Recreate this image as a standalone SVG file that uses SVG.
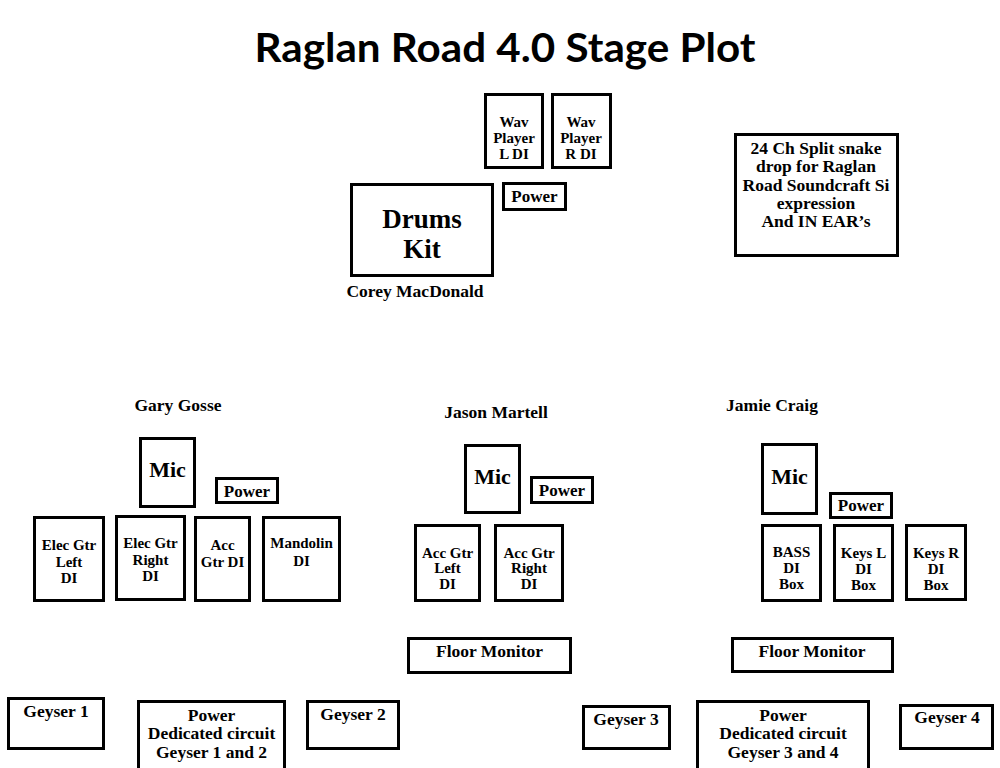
<svg xmlns="http://www.w3.org/2000/svg" width="1000" height="768" viewBox="0 0 1000 768">
<style>
.b{fill:#fff;stroke:#000;stroke-width:3}
text{font-family:"Liberation Serif","Times New Roman",serif;font-weight:bold;fill:#000;text-anchor:middle}
.t15{font-size:15px}
.t17{font-size:17px}
.t18{font-size:17.5px}
.mic{font-size:22px}
.title{font-family:Lato,"Liberation Sans",Arial,sans-serif;font-size:41px}
</style>
<rect width="1000" height="768" fill="#fff"/>
<text class="title" x="505" y="62" textLength="501" lengthAdjust="spacingAndGlyphs">Raglan Road 4.0 Stage Plot</text>
<g id="connectors"/>

<g id="wav-l"><rect class="b" x="485.5" y="94.5" width="57" height="73"/>
<text class="t15" x="514" y="127">Wav</text><text class="t15" x="514" y="143">Player</text><text class="t15" x="514" y="159">L DI</text></g>
<g id="wav-r"><rect class="b" x="552.5" y="94.5" width="58" height="73"/>
<text class="t15" x="581" y="127">Wav</text><text class="t15" x="581" y="143">Player</text><text class="t15" x="581" y="159">R DI</text></g>
<g id="power-drums"><rect class="b" x="503.5" y="183.5" width="62" height="26"/>
<text class="t17" x="534.5" y="202">Power</text></g>
<g id="drums"><rect class="b" x="351.5" y="184.5" width="141" height="91"/>
<text x="422" y="228" font-size="27">Drums</text><text x="422" y="258" font-size="27">Kit</text></g>
<text id="corey" class="t18" x="415" y="297">Corey MacDonald</text>

<g id="snake"><rect class="b" x="735.5" y="134.5" width="162" height="121"/>
<text class="t18" x="816" y="154">24 Ch Split snake</text>
<text class="t18" x="816" y="172">drop for Raglan</text>
<text class="t18" x="816" y="191">Road Soundcraft Si</text>
<text class="t18" x="816" y="209">expression</text>
<text class="t18" x="816" y="227">And IN EAR’s</text></g>

<text id="gary" class="t18" x="178" y="411">Gary Gosse</text>
<g id="gary-mic"><rect class="b" x="140.5" y="438.5" width="54" height="68"/><text class="mic" x="167.5" y="477">Mic</text></g>
<g id="gary-power"><rect class="b" x="216.5" y="478.5" width="61" height="24"/><text class="t17" x="247" y="497">Power</text></g>
<g id="elec-l"><rect class="b" x="34.5" y="517.5" width="69" height="83"/>
<text class="t15" x="69" y="550">Elec Gtr</text><text class="t15" x="69" y="567">Left</text><text class="t15" x="69" y="583">DI</text></g>
<g id="elec-r"><rect class="b" x="116.5" y="516.5" width="68" height="83"/>
<text class="t15" x="150.5" y="548">Elec Gtr</text><text class="t15" x="150.5" y="565">Right</text><text class="t15" x="150.5" y="581">DI</text></g>
<g id="acc-gary"><rect class="b" x="195.5" y="517.5" width="54" height="83"/>
<text class="t15" x="222.5" y="550">Acc</text><text class="t15" x="222.5" y="567">Gtr DI</text></g>
<g id="mandolin"><rect class="b" x="263.5" y="517.5" width="76" height="83"/>
<text class="t15" x="301.5" y="548">Mandolin</text><text class="t15" x="301.5" y="566">DI</text></g>

<text id="jason" class="t18" x="496" y="418">Jason Martell</text>
<g id="jason-mic"><rect class="b" x="465.5" y="445.5" width="54" height="67"/><text class="mic" x="492.5" y="484">Mic</text></g>
<g id="jason-power"><rect class="b" x="531.5" y="477.5" width="61" height="25"/><text class="t17" x="562" y="496">Power</text></g>
<g id="acc-l"><rect class="b" x="415.5" y="525.5" width="64" height="75"/>
<text class="t15" x="447.5" y="558">Acc Gtr</text><text class="t15" x="447.5" y="573">Left</text><text class="t15" x="447.5" y="589">DI</text></g>
<g id="acc-r"><rect class="b" x="495.5" y="525.5" width="67" height="75"/>
<text class="t15" x="529" y="558">Acc Gtr</text><text class="t15" x="529" y="573">Right</text><text class="t15" x="529" y="589">DI</text></g>
<g id="monitor-jason"><rect class="b" x="408.5" y="638.5" width="162" height="34"/><text class="t18" x="489.5" y="657">Floor Monitor</text></g>

<text id="jamie" class="t18" x="772" y="411">Jamie Craig</text>
<g id="jamie-mic"><rect class="b" x="762.5" y="444.5" width="54" height="69"/><text class="mic" x="789.5" y="484">Mic</text></g>
<g id="jamie-power"><rect class="b" x="830.5" y="493.5" width="61" height="24"/><text class="t17" x="861" y="511">Power</text></g>
<g id="bass"><rect class="b" x="762.5" y="525.5" width="58" height="75"/>
<text class="t15" x="791.5" y="557">BASS</text><text class="t15" x="791.5" y="573">DI</text><text class="t15" x="791.5" y="589">Box</text></g>
<g id="keys-l"><rect class="b" x="834.5" y="525.5" width="58" height="75"/>
<text class="t15" x="863.5" y="558">Keys L</text><text class="t15" x="863.5" y="574">DI</text><text class="t15" x="863.5" y="590">Box</text></g>
<g id="keys-r"><rect class="b" x="906.5" y="525.5" width="59" height="74"/>
<text class="t15" x="936" y="558">Keys R</text><text class="t15" x="936" y="574">DI</text><text class="t15" x="936" y="590">Box</text></g>
<g id="monitor-jamie"><rect class="b" x="732.5" y="638.5" width="160" height="33"/><text class="t18" x="812" y="657">Floor Monitor</text></g>

<g id="geyser1"><rect class="b" x="8.5" y="698.5" width="95" height="50"/><text class="t18" x="56" y="717">Geyser 1</text></g>
<g id="power12"><rect class="b" x="138.5" y="701.5" width="146" height="80"/>
<text class="t18" x="211.5" y="721">Power</text><text class="t18" x="211.5" y="739">Dedicated circuit</text><text class="t18" x="211.5" y="758">Geyser 1 and 2</text></g>
<g id="geyser2"><rect class="b" x="307.5" y="701.5" width="91" height="47"/><text class="t18" x="353" y="720">Geyser 2</text></g>
<g id="geyser3"><rect class="b" x="583.5" y="706.5" width="86" height="42"/><text class="t18" x="626" y="725">Geyser 3</text></g>
<g id="power34"><rect class="b" x="697.5" y="701.5" width="171" height="80"/>
<text class="t18" x="783" y="721">Power</text><text class="t18" x="783" y="739">Dedicated circuit</text><text class="t18" x="783" y="758">Geyser 3 and 4</text></g>
<g id="geyser4"><rect class="b" x="900.5" y="705.5" width="92" height="43"/><text class="t18" x="947" y="723">Geyser 4</text></g>
</svg>
